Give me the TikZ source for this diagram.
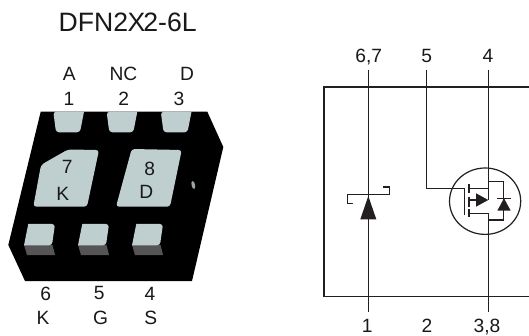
\documentclass[tikz,border=0pt]{standalone}
\usepackage{fontspec}
\setmainfont{Liberation Sans}
\definecolor{padc}{HTML}{BFCFD0}
\definecolor{padd}{HTML}{555555}
\definecolor{linec}{HTML}{231F20}
\tikzset{
  lbl/.style={inner sep=0pt,font=\fontsize{19.2}{19.2}\selectfont,text height=13.6pt,text depth=0pt,text=black!90},
  ttl/.style={inner sep=0pt,font=\fontsize{26.6}{26.6}\selectfont,text height=19pt,text depth=0pt,text=black!90},
  wire/.style={draw=linec,line width=1.2pt},
  pad/.style={fill=padc,rounded corners=3pt},
  padshade/.style={fill=padd},
  solid tip/.style={fill=linec,draw=none}
}
\begin{document}
\begin{tikzpicture}[x=1pt,y=-1pt]
\useasboundingbox (0,0) rectangle (529,336);
\fill[white] (0,0) rectangle (529,336);
% package
\fill[black] (40.7,111.7) -- (207.3,111.7) -- (223.3,147) -- (192,281) -- (25,281) -- (8.3,245) -- cycle;
% top pads
\foreach \dx in {0,53.3,107.5}{
  \fill[pad,shift={(\dx,0)}] (53.3,111.7) [sharp corners] -- (84,111.7) [rounded corners=3pt] -- (80,132.3) -- (56,132.3) -- cycle;
}
% centre pads
\fill[pad] (68,149.5) -- (99,150) -- (87,206.7) -- (33.3,206.7) -- (41,165) -- (46,162) -- cycle;
\fill[pad] (131.7,149) -- (181.7,150) -- (170,206.7) -- (116,206.7) -- cycle;
% bottom pads
\foreach \dx in {0,54,108}{
  \fill[padshade,shift={(\dx,0)}] (24,245) -- (52.5,245) -- (55,255) -- (27,255) -- cycle;
  \fill[pad,shift={(\dx,0)}] (28.3,224) -- (55,224) -- (52,245.3) [sharp corners] -- (24,245.3) -- cycle;
}
\fill[padc!80!black,rotate around={12:(193.3,185)}] (193.3,185) ellipse (1.8pt and 4pt);
% package labels
\node[ttl] (title) at (127.7,21.7) {DFN2\kern-0.5ptX\kern-2pt 2-6L};
\node[lbl] (pA) at (69.3,74) {A};
\node[lbl] (pNC) at (123.5,74) {NC};
\node[lbl] (pD) at (187,74) {D};
\node[lbl] (p1) at (69,99) {1};
\node[lbl] (p2) at (123.7,99) {2};
\node[lbl] (p3) at (179,99) {3};
\node[lbl] (p7) at (67.3,167) {7};
\node[lbl] (pK) at (62.7,194) {K};
\node[lbl] (p8) at (149.7,169) {8};
\node[lbl] (pDb) at (146.3,192) {D};
\node[lbl] (p6) at (45.7,294) {6};
\node[lbl] (p5) at (99.3,293) {5};
\node[lbl] (p4) at (150,294) {4};
\node[lbl] (pKb) at (43,318) {K};
\node[lbl] (pG) at (100.7,318) {G};
\node[lbl] (pS) at (150.7,318) {S};
% schematic labels
\node[lbl] (s67) at (368.8,55.7) {6,7};
\node[lbl] (s5) at (426.7,55.7) {5};
\node[lbl] (s4) at (488,55.7) {4};
\node[lbl] (s1) at (367.3,325.6) {1};
\node[lbl] (s2) at (427,325.6) {2};
\node[lbl] (s38) at (487,325.6) {3,8};
% schematic
\coordinate (a67) at (368.3,70);
\coordinate (a1) at (368.3,311.7);
\coordinate (a5) at (426.3,70);
\coordinate (a4) at (488.3,70);
\coordinate (a38) at (488.3,311.7);
\draw[wire] (529,87) -- (324,87) -- (324,296.3) -- (529,296.3);
\draw[wire] (a67) -- (a1);
\draw[wire] (a5) |- (464.3,188.7) -- (464.3,215);
\draw[wire] (a4) -- (488.3,200);
\draw[wire] (a38) -- (488.3,213.3);
\draw[wire] (485.1,201.2) ellipse (35.6pt and 33.2pt);
% schottky
\draw[wire] (353,203.3) -- (347.7,203.3) -- (347.7,194.3) -- (389.3,194.3) -- (389.3,187) -- (383,187);
\fill[solid tip] (368.3,196) -- (376.3,219.3) -- (360.3,219.3) -- cycle;
% mosfet
\draw[wire,line width=1.5pt] (469,184) -- (469,193) (469,197) -- (469,207) (469,209.5) -- (469,217.5);
\draw[wire] (469,188.3) -- (488.3,188.3) (469,200) -- (476,200) (469,213.3) -- (488.3,213.3);
\fill[solid tip] (476,193.3) -- (488.3,200) -- (476,206.7) -- cycle;
\draw[wire] (488.3,181.7) -- (503.7,181.7) -- (503.7,220) -- (488.3,220);
\draw[wire] (497,198.3) -- (511,198.3);
\fill[solid tip] (504,198.3) -- (510.7,210.7) -- (497.3,210.7) -- cycle;
\end{tikzpicture}
\end{document}
